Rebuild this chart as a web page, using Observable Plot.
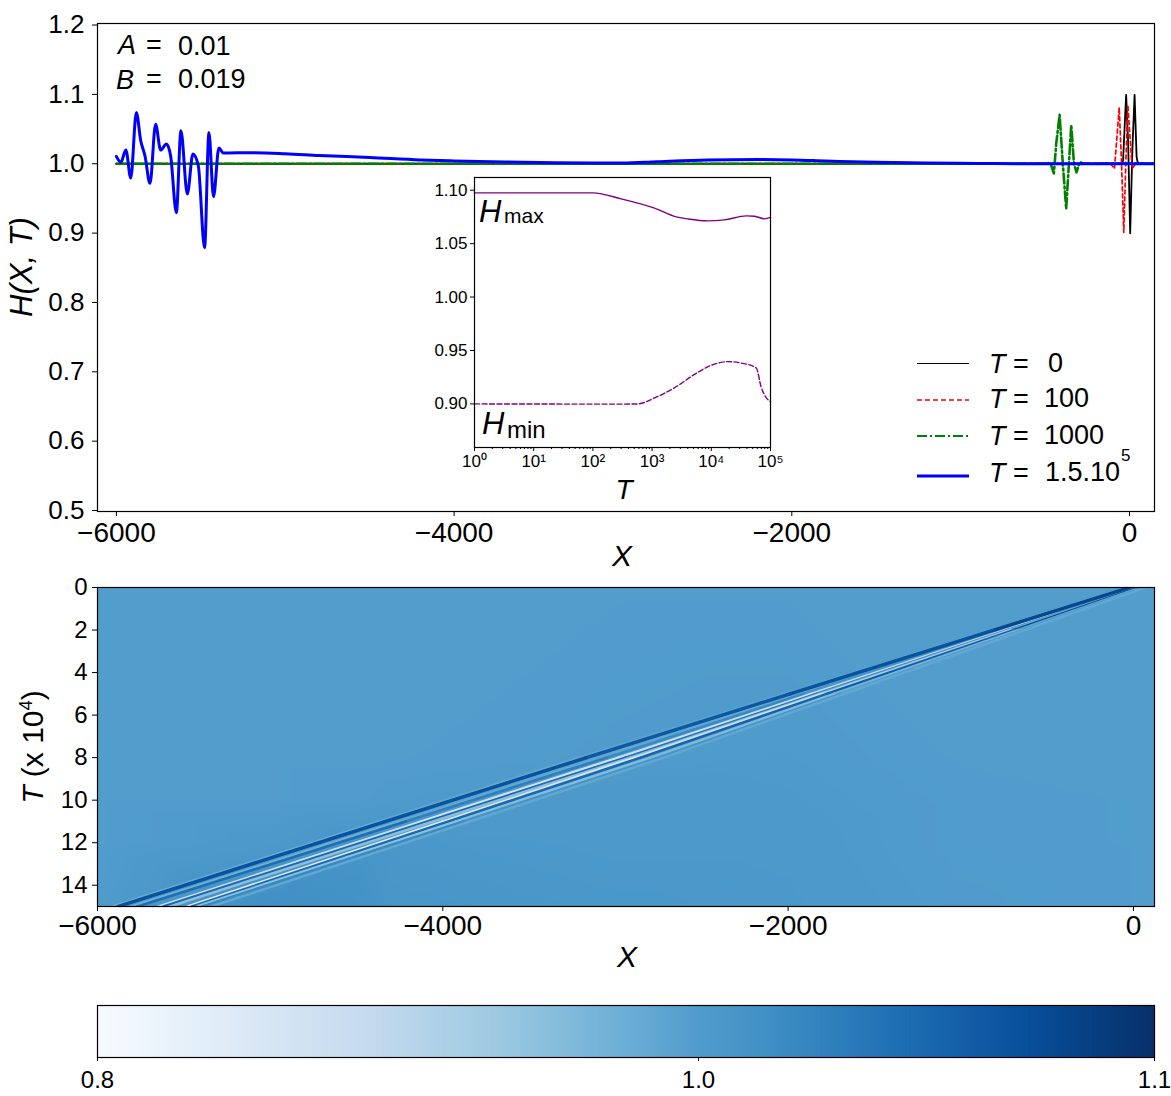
<!DOCTYPE html>
<html>
<head>
<meta charset="utf-8">
<script src="https://cdn.jsdelivr.net/npm/d3@7"></script>
<script src="https://cdn.jsdelivr.net/npm/@observablehq/plot@0.6"></script>
<style>
  body { margin: 0; background: white; }
  #chart { position: relative; width: 1171px; height: 1096px; overflow: hidden;
           font-family: "Liberation Sans", Arial, sans-serif; color: black; }
  #chart svg { position: absolute; left: 0; }
  #chart span { position: absolute; white-space: nowrap; line-height: 1; }
  sup { font-size: 62%; line-height: 0; }
</style>
</head>
<body>
<div id="chart"></div>
<script>
// top panel, profiles H(X) at four times
const blackX = [-6000, -45, -38, -20, -8, 4, 17, 30, 42, 50, 148]
const blackH = [1, 1, 1.005, 1.0993, 1.03, 0.8997, 1.02, 1.0993, 1.01, 1, 1]
const redX = [-6000, -112, -89, -61, -47, -34, -22, -10, 16, 36, 148]
const redH = [1, 1, 0.993, 1.081, 1, 0.901, 1, 1.085, 0.993, 1, 1]
const greenX = [-6000, -527, -477, -463, -448, -434, -414, -395, -375, -359, -345, -329, -314, -294, -274, 148]
const greenH = [1, 1, 1.001, 0.997, 0.986, 1.029, 1.0705, 1, 0.935, 1, 1.056, 1, 0.9875, 1.003, 1, 1]
const blueX = [-6000, -5974, -5944, -5915, -5882, -5856, -5831, -5801, -5768, -5738, -5704, -5679, -5645, -5618, -5580, -5547, -5515, -5478, -5452, -5425, -5393, -5367,
  -5200, -5000, -4800, -4500, -4200, -4000, -3700, -3400, -3000, -2800, -2500, -2200, -2000, -1800, -1500, -1200, -900, -600, 148]
const blueH = [1.0105, 1.0019, 1.0197, 0.9794, 1.0738, 1.0331, 1.0115, 0.9717, 1.0571, 1.0197, 1.0283, 1.0115, 0.9295, 1.0475, 0.9564, 1.014, 0.9971, 0.8787, 1.045, 0.9525, 1.0226, 1.0154,
  1.016, 1.0145, 1.012, 1.009, 1.0055, 1.004, 1.0025, 1.0015, 1.001, 1.003, 1.0055, 1.006, 1.0055, 1.004, 1.002, 1.001, 1.0005, 1, 1]

// inset, extrema against T
const maxT = [1, 100, 300, 1100, 2540, 3980, 8710, 16600, 38900, 53700, 79400, 100000]
const maxH = [1.0975, 1.0975, 1.0919, 1.0832, 1.0751, 1.0732, 1.0713, 1.0722, 1.076, 1.0757, 1.0732, 1.0745]
const minT = [1, 300, 575, 1100, 2400, 5130, 9930, 19000, 31600, 57500, 69200, 85100, 100000]
const minH = [0.9, 0.8998, 0.9, 0.9056, 0.9152, 0.9274, 0.9361, 0.9396, 0.9383, 0.9336, 0.9162, 0.9056, 0.9022]
const insetMajor = [1, 10, 100, 1000, 10000, 100000]
const insetLabels = ["10⁰", "10¹", "10²", "10³", "10⁴", "10⁵"]
const insetMinor = [2, 3, 4, 5, 6, 7, 8, 9]
const insetYTicks = [0.9, 0.95, 1, 1.05, 1.1]

// heat map: smooth background read on a coarse grid
const bgX = [-6000, -5000, -4500, -4300, -3000, -2000, -1000, 125]
const bgT = [0, 8, 10, 12, 15]
const bgH = [
  [0.999, 0.999, 0.999, 0.999, 0.999, 0.999, 0.999, 0.999],
  [0.999, 0.999, 0.999, 0.999, 1.001, 1.002, 0.999, 0.999],
  [0.999, 0.999, 1, 1.002, 1.004, 1.003, 1, 0.999],
  [0.999, 1.004, 1.009, 1.006, 1.004, 1.004, 1, 0.999],
  [1.001, 1.015, 1.013, 1.008, 1.006, 1.005, 1.001, 0.999]
]

// heat map: the wave packet stripes, X and H of each stripe at streakT
const streakT = [0, 2, 5, 8, 11, 15]
const streakX = [
  [-30, -825, -2018, -3210, -4369, -5915],
  [-20, -807, -1988, -3168, -4331, -5882],
  [-10, -782, -1941, -3100, -4257, -5801],
  [-5, -766, -1908, -3050, -4215, -5768],
  [4, -743, -1863, -2983, -4124, -5645],
  [12, -727, -1834, -2942, -4089, -5618],
  [15, -718, -1816, -2915, -4057, -5580],
  [18, -709, -1800, -2890, -3999, -5478],
  [30, -691, -1773, -2855, -3968, -5452],
  [42, -668, -1732, -2797, -3923, -5425],
  [60, -642, -1696, -2750, -3881, -5393],
  [70, -628, -1674, -2720, -3843, -5340]
]
const streakH = [
  [1, 0.995, 0.99, 0.985, 0.98, 0.98],
  [1.08, 1.07, 1.065, 1.07, 1.07, 1.07],
  [1, 0.99, 0.985, 0.985, 0.975, 0.972],
  [1, 1.01, 1.02, 1.03, 1.045, 1.057],
  [0.9, 0.89, 0.88, 0.87, 0.88, 0.9],
  [1.02, 1.03, 1.04, 1.05, 1.05, 1.05],
  [1, 0.98, 0.96, 0.95, 0.95, 0.956],
  [0.98, 0.92, 0.88, 0.86, 0.85, 0.85],
  [1.08, 1.06, 1.055, 1.05, 1.05, 1.045],
  [0.99, 0.97, 0.96, 0.955, 0.95, 0.95],
  [1, 1, 1.01, 1.01, 1.02, 1.02],
  [0.985, 0.985, 0.985, 0.985, 0.985, 0.985]
]

// colour scale
const colorH = [0.8, 0.844, 0.888, 0.932, 0.976, 1.0132, 1.0421, 1.071, 1.1]
const colorHex = ["#f7fbff", "#deebf7", "#c6dbef", "#9ecae1", "#6baed6", "#4292c6", "#2171b5", "#08519c", "#08306b"]
const barTicks = [0.8, 1, 1.1]

const topXTicks = [-6000, -4000, -2000, 0]
const topYTicks = [0.5, 0.6, 0.7, 0.8, 0.9, 1, 1.1, 1.2]
const mapYTicks = [0, 2, 4, 6, 8, 10, 12, 14]

const minus = d => String(d).replace("-", "−")
const font = '"Liberation Sans", Arial, sans-serif'
const colorScale = {type: "linear", domain: colorH, range: colorHex, clamp: true}
const chart = document.getElementById("chart")

function place(svg, top) {
  svg.style.top = top + "px"
  chart.append(svg)
}

// html text, centred on x,y unless anchor says otherwise
function put(html, x, y, size, {anchor = "-50%", rotate = 0} = {}) {
  const s = document.createElement("span")
  s.innerHTML = html
  s.style.cssText = `left:${x}px;top:${y}px;font-size:${size}px;transform:translate(${anchor},-50%) rotate(${rotate}deg)`
  chart.append(s)
}

const topPlot = Plot.plot({
  width: 1171, height: 560,
  marginLeft: 97, marginRight: 17, marginTop: 23, marginBottom: 49,
  style: {fontFamily: font, background: "transparent"},
  x: {domain: [-6112, 148]},
  y: {domain: [0.4986, 1.2022]},
  marks: [
    Plot.axisX({ticks: topXTicks, tickFormat: minus, fontSize: 28, tickSize: 5, tickPadding: 6, label: null, stroke: "black", color: "black"}),
    Plot.axisY({ticks: topYTicks, tickFormat: d => d.toFixed(1), fontSize: 26, tickSize: 5, tickPadding: 8, label: null}),
    Plot.line(blackH, {x: blackX, y: blackH, stroke: "black", strokeWidth: 1.8, clip: true}),
    Plot.line(redH, {x: redX, y: redH, stroke: "#ff0000", strokeWidth: 1.7, strokeDasharray: "4,3", clip: true}),
    Plot.line(greenH, {x: greenX, y: greenH, stroke: "#008000", strokeWidth: 2.6, strokeDasharray: "10,3,2,3", clip: true}),
    Plot.line(blueH, {x: blueX, y: blueH, stroke: "#0000ff", strokeWidth: 3, curve: "monotone-x", clip: true}),
    Plot.frame({stroke: "black", strokeWidth: 1.2})
  ]
})
place(topPlot, 0)

const inset = Plot.plot({
  width: 400, height: 340,
  marginLeft: 74, marginRight: 30, marginTop: 7, marginBottom: 63,
  style: {fontFamily: font, background: "transparent"},
  x: {type: "log", domain: [1, 100000]},
  y: {domain: [0.8592, 1.1119]},
  marks: [
    Plot.frame({fill: "white"}),
    Plot.axisX({ticks: insetMajor, tickFormat: d => insetLabels[insetMajor.indexOf(d)], fontSize: 17, tickSize: 4, tickPadding: 3, label: null}),
    Plot.axisX({ticks: insetMajor.slice(0, -1).flatMap(d => insetMinor.map(m => d * m)), tickFormat: () => "", tickSize: 2, label: null}),
    Plot.axisY({ticks: insetYTicks, tickFormat: d => d.toFixed(2), fontSize: 17, tickSize: 4, tickPadding: 3, label: null}),
    Plot.line(maxH, {x: maxT, y: maxH, stroke: "#800080", strokeWidth: 1.4, curve: "monotone-x"}),
    Plot.line(minH, {x: minT, y: minH, stroke: "#800080", strokeWidth: 1.4, strokeDasharray: "5,2.5", curve: "monotone-x"}),
    Plot.frame({stroke: "black", strokeWidth: 1.2})
  ]
})
place(inset, 170)
inset.style.left = "400px"

const bgPoints = bgT.flatMap((T, i) => bgX.map((X, j) => ({X, T, H: bgH[i][j]})))
const streaks = streakX.flatMap((row, id) => row.map((X, k) => ({id, X, T: streakT[k], H: streakH[id][k]})))

const mapPlot = Plot.plot({
  width: 1171, height: 376,
  marginLeft: 97, marginRight: 17, marginTop: 17, marginBottom: 40,
  style: {fontFamily: font, background: "transparent"},
  x: {domain: [-6000, 122]},
  y: {domain: [15, 0]},
  color: colorScale,
  marks: [
    Plot.raster(bgPoints, {x: "X", y: "T", fill: "H", interpolate: "barycentric"}),
    Plot.line(streaks, {x: "X", y: "T", z: "id", stroke: "H", strokeWidth: 2.6, clip: true}),
    // the front stripe is the widest one
    Plot.line(streaks.filter(d => d.id == 1), {x: "X", y: "T", z: "id", stroke: "H", strokeWidth: 3.4, clip: true}),
    Plot.axisX({ticks: topXTicks, tickFormat: minus, fontSize: 28, tickSize: 5, tickPadding: 4, label: null}),
    Plot.axisY({ticks: mapYTicks, fontSize: 24, tickSize: 5, tickPadding: 5, label: null}),
    Plot.frame({stroke: "black", strokeWidth: 1.2})
  ]
})
place(mapPlot, 570)

// colour bar, thin rects across the H range
const barSteps = d3.range(0.8, 1.1, 0.0003)
const barPlot = Plot.plot({
  width: 1171, height: 106,
  marginLeft: 97, marginRight: 17, marginTop: 15, marginBottom: 39,
  style: {fontFamily: font, background: "transparent"},
  x: {type: "linear", domain: barTicks, range: [97, 698, 1154]},
  y: {domain: [0, 1], axis: null},
  color: colorScale,
  marks: [
    Plot.rect(barSteps, {x1: d => d, x2: d => Math.min(d + 0.0006, 1.1), y1: 0, y2: 1, fill: d => d}),
    Plot.axisX({ticks: barTicks, tickFormat: d => d.toFixed(1), fontSize: 24, tickSize: 4, tickPadding: 9, label: null}),
    Plot.frame({stroke: "black", strokeWidth: 1.2})
  ]
})
place(barPlot, 990)

// axis titles
put("<i>H(X, T)</i>", 21, 267, 31, {rotate: -90})
put("<i>X</i>", 622, 556, 30)
put("<i>X</i>", 627, 957, 30)
put("<i>T</i> (x 10<sup>4</sup>)", 33, 747, 30, {rotate: -90})
put("<i>T</i>", 624, 490, 28)

// parameters
put("<i>A</i>", 118, 45, 27, {anchor: "0"})
put("=", 146, 45, 27, {anchor: "0"})
put("0.01", 178, 46, 27, {anchor: "0"})
put("<i>B</i>", 116, 80, 27, {anchor: "0"})
put("=", 146, 79, 27, {anchor: "0"})
put("0.019", 178, 79, 27, {anchor: "0"})

// inset annotations
put("<i>H</i>", 479, 211, 31, {anchor: "0"})
put("max", 504, 215, 21, {anchor: "0"})
put("<i>H</i>", 482, 423, 31, {anchor: "0"})
put("min", 507, 430, 24, {anchor: "0"})

// legend
const legend = d3.select(chart).append("svg").attr("width", 1171).attr("height", 1096).style("top", "0px").style("pointer-events", "none")
const legendRows = [
  {y: 363.5, textY: 363, label: "0", x: 1048, stroke: "black", width: 1.2, dash: null},
  {y: 400, textY: 398, label: "100", x: 1044, stroke: "#ff0000", width: 1.5, dash: "5,3"},
  {y: 436, textY: 435, label: "1000", x: 1044, stroke: "#008000", width: 2.2, dash: "10,3,2,3"},
  {y: 476, textY: 472, label: "1.5.10", x: 1045, stroke: "#0000ff", width: 3, dash: null}
]
for (const r of legendRows) {
  legend.append("line").attr("x1", 917).attr("x2", 969).attr("y1", r.y).attr("y2", r.y)
    .attr("stroke", r.stroke).attr("stroke-width", r.width).attr("stroke-dasharray", r.dash)
  put("<i>T</i>", 989, r.textY + 1, 27, {anchor: "0"})
  put("=", 1013, r.textY + 1, 27, {anchor: "0"})
  put(r.label, r.x, r.textY, 27, {anchor: "0"})
}
put("5", 1121, 455, 17, {anchor: "0"})
</script>
</body>
</html>
